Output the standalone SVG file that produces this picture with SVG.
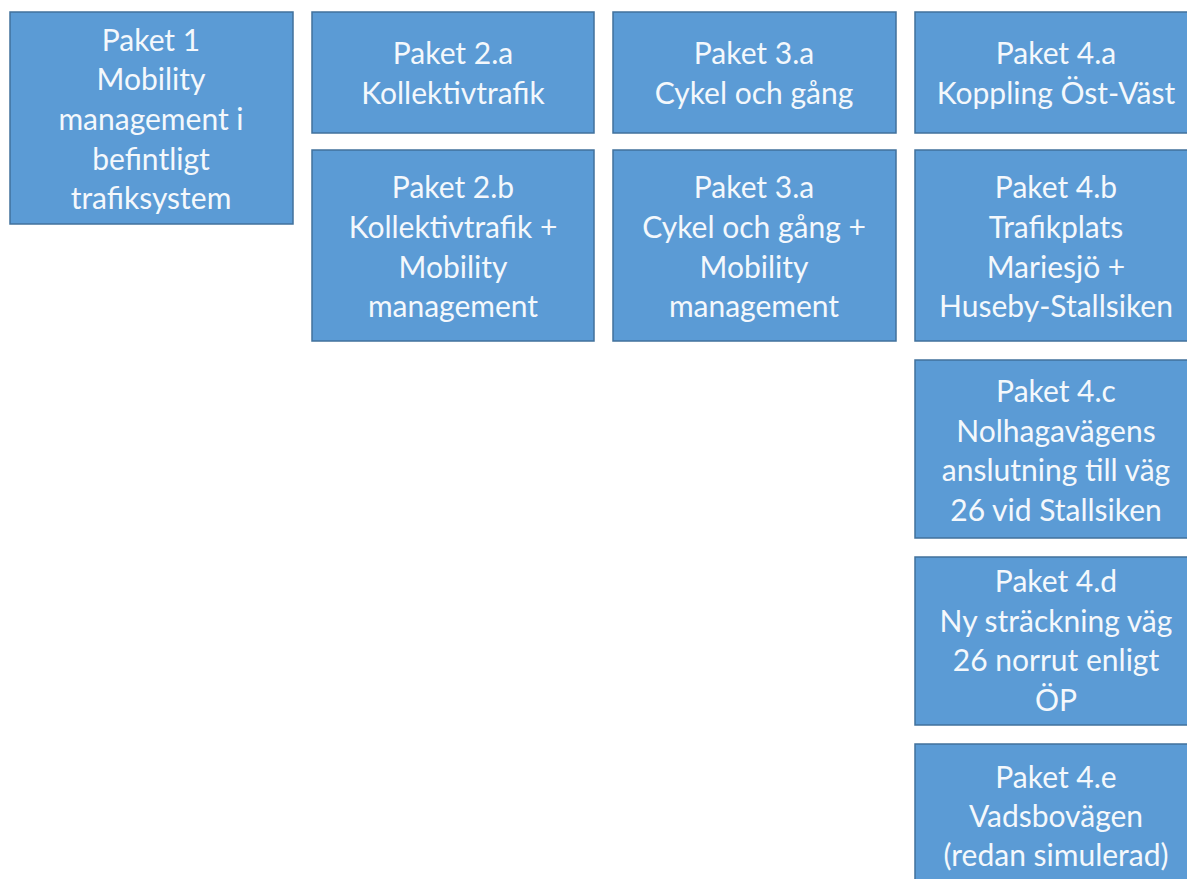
<svg xmlns="http://www.w3.org/2000/svg" width="1187" height="879" viewBox="0 0 1187 879">
<style>
.box{fill:#5B9BD5;stroke:#41719C;stroke-width:1.5}
.t{font-family:Lato,"Open Sans",sans-serif;font-size:30px;fill:#F4F8FC;text-anchor:middle}
</style>
<rect width="1187" height="879" fill="#ffffff"/>
<g id="connectors"></g>
<g id="paket1"><rect class="box" x="10" y="12" width="283" height="212"/>
<text class="t" x="151" y="51">Paket 1</text><text class="t" x="151" y="90">Mobility</text><text class="t" x="151" y="130">management i</text><text class="t" x="151" y="170">befintligt</text><text class="t" x="151" y="209">trafiksystem</text></g>
<g id="paket2a"><rect class="box" x="312" y="12" width="282" height="121"/>
<text class="t" x="453" y="64">Paket 2.a</text><text class="t" x="453" y="104">Kollektivtrafik</text></g>
<g id="paket2b"><rect class="box" x="312" y="150" width="282" height="191"/>
<text class="t" x="453" y="198">Paket 2.b</text><text class="t" x="453" y="238">Kollektivtrafik +</text><text class="t" x="453" y="278">Mobility</text><text class="t" x="453" y="317">management</text></g>
<g id="paket3a"><rect class="box" x="613" y="12" width="283" height="121"/>
<text class="t" x="754" y="64">Paket 3.a</text><text class="t" x="754" y="104">Cykel och gång</text></g>
<g id="paket3a2"><rect class="box" x="613" y="150" width="283" height="191"/>
<text class="t" x="754" y="198">Paket 3.a</text><text class="t" x="754" y="238">Cykel och gång +</text><text class="t" x="754" y="278">Mobility</text><text class="t" x="754" y="317">management</text></g>
<g id="paket4a"><rect class="box" x="915" y="12" width="283" height="121"/>
<text class="t" x="1056" y="64">Paket 4.a</text><text class="t" x="1056" y="104">Koppling Öst-Väst</text></g>
<g id="paket4b"><rect class="box" x="915" y="150" width="283" height="191"/>
<text class="t" x="1056" y="198">Paket 4.b</text><text class="t" x="1056" y="238">Trafikplats</text><text class="t" x="1056" y="278">Mariesjö +</text><text class="t" x="1056" y="317">Huseby-Stallsiken</text></g>
<g id="paket4c"><rect class="box" x="915" y="360" width="283" height="178"/>
<text class="t" x="1056" y="402">Paket 4.c</text><text class="t" x="1056" y="442">Nolhagavägens</text><text class="t" x="1056" y="481">anslutning till väg</text><text class="t" x="1056" y="521">26 vid Stallsiken</text></g>
<g id="paket4d"><rect class="box" x="915" y="557" width="283" height="168"/>
<text class="t" x="1056" y="592">Paket 4.d</text><text class="t" x="1056" y="632">Ny sträckning väg</text><text class="t" x="1056" y="671">26 norrut enligt</text><text class="t" x="1056" y="711">ÖP</text></g>
<g id="paket4e"><rect class="box" x="915" y="744" width="283" height="150"/>
<text class="t" x="1056" y="788">Paket 4.e</text><text class="t" x="1056" y="827">Vadsbovägen</text><text class="t" x="1056" y="866">(redan simulerad)</text></g>
</svg>
